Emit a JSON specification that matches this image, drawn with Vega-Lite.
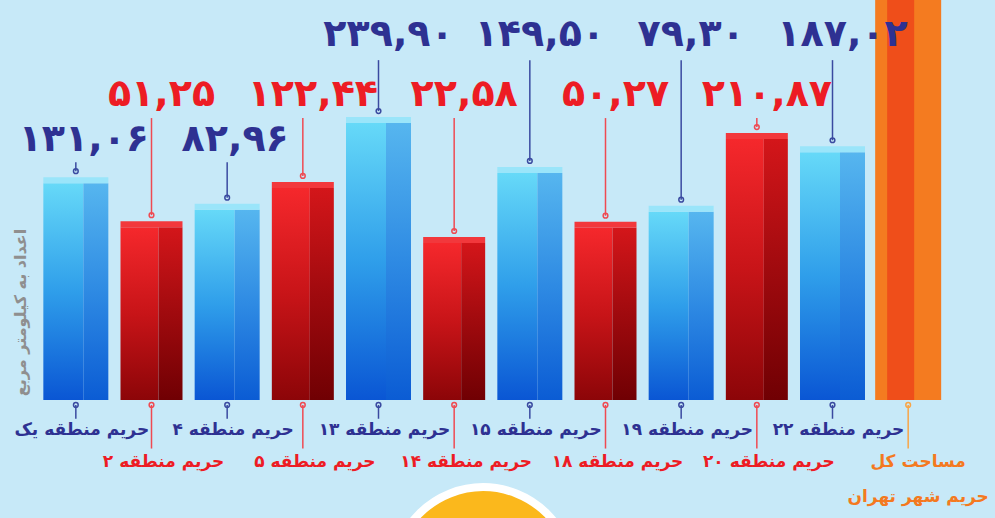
{
  "$schema": "https://vega.github.io/schema/vega-lite/v6.json",
  "width": 908,
  "height": 400,
  "autosize": {"type": "none"},
  "padding": {"left": 38, "top": 0, "right": 49, "bottom": 118},
  "background": "#c7e9f8",
  "config": {"view": {"stroke": null}, "text": {"font": "DejaVu Sans"}},
  "data": {
    "values": [
      {"region": "حریم منطقه یک", "value": 131.06, "label": "۱۳۱,۰۶", "type": "blue"},
      {"region": "حریم منطقه ۲", "value": 51.25, "label": "۵۱,۲۵", "type": "red"},
      {"region": "حریم منطقه ۴", "value": 82.96, "label": "۸۲,۹۶", "type": "blue"},
      {"region": "حریم منطقه ۵", "value": 122.44, "label": "۱۲۲,۴۴", "type": "red"},
      {"region": "حریم منطقه ۱۳", "value": 239.90, "label": "۲۳۹,۹۰", "type": "blue"},
      {"region": "حریم منطقه ۱۴", "value": 22.58, "label": "۲۲,۵۸", "type": "red"},
      {"region": "حریم منطقه ۱۵", "value": 149.50, "label": "۱۴۹,۵۰", "type": "blue"},
      {"region": "حریم منطقه ۱۸", "value": 50.27, "label": "۵۰,۲۷", "type": "red"},
      {"region": "حریم منطقه ۱۹", "value": 79.30, "label": "۷۹,۳۰", "type": "blue"},
      {"region": "حریم منطقه ۲۰", "value": 210.87, "label": "۲۱۰,۸۷", "type": "red"},
      {"region": "حریم منطقه ۲۲", "value": 187.02, "label": "۱۸۷,۰۲", "type": "blue"},
      {"region": "مساحت کل\nحریم شهر تهران", "value": 1327.15, "label": "۱۳۲۷,۱۵", "type": "orange"}
    ]
  },
  "encoding": {
    "x": {
      "field": "region",
      "type": "nominal",
      "axis": null,
      "scale": {
        "domain": ["حریم منطقه یک", "حریم منطقه ۲", "حریم منطقه ۴", "حریم منطقه ۵", "حریم منطقه ۱۳", "حریم منطقه ۱۴", "حریم منطقه ۱۵", "حریم منطقه ۱۸", "حریم منطقه ۱۹", "حریم منطقه ۲۰", "حریم منطقه ۲۲", "مساحت کل\nحریم شهر تهران"],
        "paddingInner": 0,
        "paddingOuter": 0
      }
    }
  },
  "layer": [
    {
      "data": {"values": [{"k": 1}]},
      "mark": {"type": "point", "filled": true, "size": 32400, "color": "#fbb81c", "stroke": "white", "strokeWidth": 8, "opacity": 1, "xOffset": 29},
      "encoding": {"x": {"datum": "حریم منطقه ۱۴"}, "y": {"datum": -583, "type": "quantitative"}}
    },
    {
      "transform": [{"filter": "datum.type == 'blue'"}],
      "mark": {"type": "bar", "width": 40, "xOffset": -12.5, "color": {"gradient": "linear", "x1": 0, "y1": 0, "x2": 0, "y2": 1, "stops": [{"offset": 0, "color": "#66d9f8"}, {"offset": 0.5, "color": "#2f9eea"}, {"offset": 1, "color": "#0a56d4"}]}},
      "encoding": {
        "y": {"field": "value", "type": "quantitative", "scale": {"domain": [-262, 463], "zero": false, "nice": false},
          "axis": {"title": "اعداد به کیلومتر مربع", "labels": false, "ticks": false, "domain": false, "grid": false, "titleX": -18, "titleY": 312, "titleAngle": -90, "titleAlign": "center", "titleBaseline": "middle", "titleColor": "#8f8f8f", "titleFontSize": 16, "titleFontWeight": "bold", "titleFont": "DejaVu Sans"}},
        "y2": {"datum": -262}
      }
    },
    {
      "transform": [{"filter": "datum.type == 'blue'"}],
      "mark": {"type": "bar", "width": 25, "xOffset": 20, "color": {"gradient": "linear", "x1": 0, "y1": 0, "x2": 0, "y2": 1, "stops": [{"offset": 0, "color": "#56b6ef"}, {"offset": 0.5, "color": "#2e8ae3"}, {"offset": 1, "color": "#0b5cd4"}]}},
      "encoding": {"y": {"field": "value", "type": "quantitative"}, "y2": {"datum": -262}}
    },
    {
      "transform": [{"filter": "datum.type == 'blue'"}],
      "mark": {"type": "bar", "width": 65, "yOffset": -6, "color": "#9ae5fa"},
      "encoding": {"y": {"field": "value", "type": "quantitative"}, "y2": {"field": "value"}}
    },
    {
      "transform": [{"filter": "datum.type == 'red'"}],
      "mark": {"type": "bar", "width": 38, "xOffset": -12, "color": {"gradient": "linear", "x1": 0, "y1": 0, "x2": 0, "y2": 1, "stops": [{"offset": 0, "color": "#f5282c"}, {"offset": 0.5, "color": "#c81418"}, {"offset": 1, "color": "#8c0508"}]}},
      "encoding": {"y": {"field": "value", "type": "quantitative"}, "y2": {"datum": -262}}
    },
    {
      "transform": [{"filter": "datum.type == 'red'"}],
      "mark": {"type": "bar", "width": 24, "xOffset": 19, "color": {"gradient": "linear", "x1": 0, "y1": 0, "x2": 0, "y2": 1, "stops": [{"offset": 0, "color": "#d4161a"}, {"offset": 0.5, "color": "#a00a0e"}, {"offset": 1, "color": "#700003"}]}},
      "encoding": {"y": {"field": "value", "type": "quantitative"}, "y2": {"datum": -262}}
    },
    {
      "transform": [{"filter": "datum.type == 'red'"}],
      "mark": {"type": "bar", "width": 62, "yOffset": -6, "color": "#f2383c"},
      "encoding": {"y": {"field": "value", "type": "quantitative"}, "y2": {"field": "value"}}
    },
    {
      "transform": [{"filter": "datum.type == 'orange'"}],
      "mark": {"type": "bar", "width": 66, "clip": true, "color": "#f47b20"},
      "encoding": {"y": {"field": "value", "type": "quantitative"}, "y2": {"datum": -262}}
    },
    {
      "transform": [{"filter": "datum.type == 'orange'"}],
      "mark": {"type": "bar", "width": 27, "xOffset": -7.5, "clip": true, "color": "#ef4e1a"},
      "encoding": {"y": {"field": "value", "type": "quantitative"}, "y2": {"datum": -262}}
    },
    {
      "transform": [{"filter": "datum.type == 'blue' && (datum.region == 'حریم منطقه یک' || datum.region == 'حریم منطقه ۴')"}],
      "mark": {"type": "rule", "strokeWidth": 1.5, "color": "#3a4aa0", "yOffset": -12},
      "encoding": {"y": {"field": "value", "type": "quantitative"}, "y2": {"datum": 169}}
    },
    {
      "transform": [{"filter": "datum.type == 'blue' && datum.region != 'حریم منطقه یک' && datum.region != 'حریم منطقه ۴'"}],
      "mark": {"type": "rule", "strokeWidth": 1.5, "color": "#3a4aa0", "yOffset": -12},
      "encoding": {"y": {"field": "value", "type": "quantitative"}, "y2": {"datum": 354}}
    },
    {
      "transform": [{"filter": "datum.type == 'red'"}],
      "mark": {"type": "rule", "strokeWidth": 1.5, "color": "#ef4a52", "yOffset": -12},
      "encoding": {"y": {"field": "value", "type": "quantitative"}, "y2": {"datum": 249}}
    },
    {
      "transform": [{"filter": "datum.type != 'orange'"}],
      "mark": {"type": "point", "filled": false, "size": 22, "strokeWidth": 1.5, "yOffset": -12, "opacity": 1},
      "encoding": {
        "y": {"field": "value", "type": "quantitative"},
        "color": {"field": "type", "type": "nominal", "scale": {"domain": ["blue", "red", "orange"], "range": ["#3a4aa0", "#ef4a52", "#f9a546"]}, "legend": null}
      }
    },
    {
      "transform": [{"filter": "datum.type == 'blue'"}],
      "mark": {"type": "rule", "strokeWidth": 1.5, "color": "#3a4aa0"},
      "encoding": {"y": {"datum": -271, "type": "quantitative"}, "y2": {"datum": -296}}
    },
    {
      "transform": [{"filter": "datum.type != 'blue'"}],
      "mark": {"type": "rule", "strokeWidth": 1.5},
      "encoding": {"y": {"datum": -271, "type": "quantitative"}, "y2": {"datum": -350}, "color": {"field": "type", "type": "nominal", "legend": null}}
    },
    {
      "mark": {"type": "point", "filled": false, "size": 22, "strokeWidth": 1.5, "opacity": 1},
      "encoding": {"y": {"datum": -271, "type": "quantitative"}, "color": {"field": "type", "type": "nominal", "legend": null}}
    },
    {
      "transform": [{"filter": "datum.type == 'blue'"}],
      "mark": {"type": "text", "fontSize": 17, "fontWeight": "bold", "dx": 6, "baseline": "middle", "color": "#2e3192"},
      "encoding": {"y": {"datum": -316, "type": "quantitative"}, "text": {"field": "region", "type": "nominal"}}
    },
    {
      "transform": [{"filter": "datum.type == 'red'"}],
      "mark": {"type": "text", "fontSize": 17, "fontWeight": "bold", "dx": 12, "baseline": "middle", "color": "#ed1c24"},
      "encoding": {"y": {"datum": -375, "type": "quantitative"}, "text": {"field": "region", "type": "nominal"}}
    },
    {
      "transform": [{"filter": "datum.type == 'orange'"}],
      "mark": {"type": "text", "fontSize": 17, "fontWeight": "bold", "dx": 10, "baseline": "middle", "lineBreak": "\n", "lineHeight": 35, "color": "#f47920"},
      "encoding": {"y": {"datum": -375, "type": "quantitative"}, "text": {"field": "region", "type": "nominal"}}
    },
    {
      "transform": [{"filter": "datum.type == 'blue' && (datum.region == 'حریم منطقه یک' || datum.region == 'حریم منطقه ۴')"}],
      "mark": {"type": "text", "fontSize": 38, "fontWeight": "bold", "dx": 8, "baseline": "middle", "color": "#2e3192"},
      "encoding": {"y": {"datum": 209, "type": "quantitative"}, "text": {"field": "label", "type": "nominal"}}
    },
    {
      "transform": [{"filter": "datum.type == 'blue' && datum.region != 'حریم منطقه یک' && datum.region != 'حریم منطقه ۴'"}],
      "mark": {"type": "text", "fontSize": 38, "fontWeight": "bold", "dx": 10, "baseline": "middle", "color": "#2e3192"},
      "encoding": {"y": {"datum": 400, "type": "quantitative"}, "text": {"field": "label", "type": "nominal"}}
    },
    {
      "transform": [{"filter": "datum.type == 'red'"}],
      "mark": {"type": "text", "fontSize": 38, "fontWeight": "bold", "dx": 10, "baseline": "middle", "color": "#ed1c24"},
      "encoding": {"y": {"datum": 291, "type": "quantitative"}, "text": {"field": "label", "type": "nominal"}}
    }
  ]
}
